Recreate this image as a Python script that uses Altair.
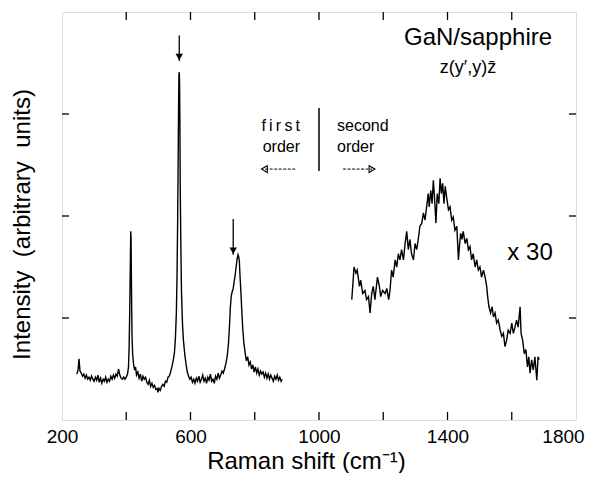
import altair as alt
import pandas as pd

# ---- first-order spectrum ----
first_x = [246, 250, 253, 256, 260, 264, 268, 272, 276, 280, 284, 288, 292, 296, 300, 304, 308, 312, 316, 320,
           324, 328, 332, 336, 340, 344, 348, 352, 356, 360, 364, 368, 372, 376, 380, 384, 388, 392, 396, 400,
           404, 407, 409, 411, 413, 414, 415, 416, 417, 418, 420, 423, 426, 429, 432, 436, 440, 444, 448, 452,
           456, 460, 464, 468, 472, 476, 480, 484, 488, 492, 496, 499, 502, 506, 510, 514, 518, 522, 526, 530,
           534, 538, 542, 546, 550, 553, 556, 558, 560, 562, 563, 564, 565, 566, 567, 568, 570, 572, 575, 578,
           582, 586, 590, 594, 598, 602, 606, 610, 614, 618, 622, 626, 630, 634, 638, 642, 646, 650, 654, 658,
           662, 666, 670, 674, 678, 682, 686, 690, 694, 698, 702, 706, 710, 714, 718, 721, 724, 727, 730, 733,
           736, 739, 742, 745, 748, 750, 752, 754, 757, 760, 763, 766, 770, 774, 778, 782, 786, 790, 794, 798,
           802, 806, 810, 814, 818, 822, 826, 830, 834, 838, 842, 846, 850, 854, 858, 862, 866, 870, 874, 878,
           882, 885]
first_y = [0.45, 0.49, 0.60, 0.48, 0.46, 0.43, 0.45, 0.41, 0.44, 0.40, 0.42, 0.39, 0.43, 0.40, 0.38, 0.42, 0.39, 0.44, 0.37, 0.41,
           0.36, 0.40, 0.38, 0.42, 0.37, 0.40, 0.38, 0.43, 0.40, 0.44, 0.41, 0.45, 0.43, 0.50, 0.44, 0.41, 0.40, 0.42, 0.40, 0.42,
           0.45, 0.52, 0.72, 1.10, 1.60, 1.85, 1.78, 1.40, 1.08, 0.82, 0.64, 0.54, 0.49, 0.52, 0.44, 0.47, 0.41, 0.45, 0.38, 0.43,
           0.40, 0.42, 0.37, 0.35, 0.39, 0.33, 0.36, 0.32, 0.34, 0.30, 0.31, 0.27, 0.31, 0.29, 0.33, 0.35, 0.33, 0.38, 0.37, 0.42,
           0.43, 0.47, 0.52, 0.58, 0.66, 0.80, 1.05, 1.40, 1.95, 2.70, 3.10, 3.38, 3.41, 3.30, 2.90, 2.30, 1.70, 1.25, 0.95, 0.78,
           0.65, 0.55, 0.47, 0.43, 0.40, 0.42, 0.37, 0.40, 0.36, 0.41, 0.38, 0.43, 0.37, 0.40, 0.44, 0.38, 0.41, 0.36, 0.42, 0.39,
           0.45, 0.38, 0.40, 0.36, 0.43, 0.40, 0.46, 0.41, 0.44, 0.48, 0.46, 0.50, 0.55, 0.62, 0.74, 0.90, 1.10, 1.22, 1.26, 1.29,
           1.36, 1.42, 1.50, 1.58, 1.62, 1.60, 1.56, 1.42, 1.25, 1.05, 0.88, 0.76, 0.66, 0.58, 0.62, 0.54, 0.57, 0.50, 0.54, 0.47,
           0.52, 0.46, 0.50, 0.44, 0.48, 0.45, 0.47, 0.42, 0.46, 0.41, 0.45, 0.40, 0.44, 0.41, 0.38, 0.43, 0.40, 0.44, 0.39, 0.42,
           0.38, 0.40]

# ---- second-order spectrum (x 30) ----
second_x = [1102, 1105, 1109, 1115, 1119, 1126, 1130, 1136, 1143, 1148, 1154, 1159, 1164, 1169, 1174, 1182, 1188, 1192, 1198, 1206,
            1211, 1217, 1221, 1226, 1231, 1237, 1242, 1247, 1252, 1257, 1263, 1268, 1273, 1278, 1283, 1288, 1294, 1299, 1304, 1309,
            1314, 1320, 1325, 1330, 1335, 1340, 1343, 1348, 1352, 1356, 1360, 1364, 1368, 1373, 1377, 1381, 1385, 1389, 1393, 1397,
            1403, 1408, 1413, 1418, 1423, 1429, 1434, 1437, 1441, 1445, 1449, 1455, 1460, 1465, 1470, 1475, 1480, 1486, 1491, 1496,
            1501, 1506, 1512, 1517, 1522, 1525, 1529, 1534, 1539, 1543, 1548, 1553, 1558, 1564, 1569, 1574, 1579, 1584, 1589, 1595,
            1600, 1605, 1610, 1615, 1620, 1626, 1629, 1634, 1639, 1644, 1649, 1653, 1657, 1662, 1667, 1672, 1678, 1682, 1685]
second_y = [1.18, 1.31, 1.50, 1.44, 1.47, 1.31, 1.37, 1.24, 1.27, 1.18, 1.21, 1.05, 1.24, 1.31, 1.18, 1.40, 1.31, 1.21, 1.27, 1.24,
            1.29, 1.18, 1.27, 1.47, 1.40, 1.57, 1.50, 1.63, 1.57, 1.67, 1.57, 1.73, 1.85, 1.67, 1.77, 1.63, 1.57, 1.73, 1.67, 1.77,
            1.90, 1.93, 2.03, 1.96, 2.09, 2.22, 2.09, 2.25, 2.12, 2.35, 2.16, 1.93, 2.22, 2.12, 2.37, 2.22, 2.32, 2.12, 2.29, 2.19,
            2.06, 2.09, 1.96, 1.99, 1.86, 1.90, 1.57, 1.70, 1.83, 1.77, 1.85, 1.73, 1.78, 1.67, 1.70, 1.57, 1.63, 1.50, 1.57, 1.47,
            1.50, 1.40, 1.47, 1.40, 1.31, 1.21, 1.11, 1.05, 1.11, 1.01, 1.05, 0.95, 0.98, 0.88, 0.82, 0.85, 0.72, 0.78, 0.88, 0.85,
            0.95, 0.85, 0.91, 0.98, 0.91, 1.11, 0.85, 0.78, 0.65, 0.69, 0.52, 0.62, 0.46, 0.59, 0.49, 0.62, 0.39, 0.62, 0.59]

# ---- axis ticks ----
x_ticks = [400, 600, 800, 1000, 1200, 1400, 1600]
x_labels = [200, 600, 1000, 1400, 1800]
y_ticks = [1, 2, 3]

# ---- annotations ----
center_text = ["GaN/sapphire", "z(y\u2032,y)z\u0304", "x 30"]
center_x = [1495, 1464, 1657]
center_y = [3.68, 3.40, 1.57]
center_size = [24, 18, 24]

left_order_text = ["f\u2009i\u2009r\u2009s\u2009t", "order"]
left_order_x = [941, 941]
left_order_y = [2.83, 2.63]
right_order_text = ["second", "order"]
right_order_x = [1056, 1056]
right_order_y = [2.83, 2.63]

divider_x = [1000]
divider_y = [3.06]
divider_y2 = [2.44]

down_arrow_x = [565, 733]
down_arrow_top = [3.77, 1.97]
down_arrow_tip = [3.52, 1.62]

side_arrow_tail = [926, 1075]
side_arrow_head = [830, 1165]
side_arrow_y = [2.46, 2.46]
side_arrow_shape = ["triangle-left", "triangle-right"]

FONT = "Liberation Sans"
W, H = 514, 408

xs = alt.Scale(domain=[200, 1800], nice=False, zero=False)
ys = alt.Scale(domain=[0, 4], nice=False, zero=False)

spec_df = pd.DataFrame({
    "x": first_x + second_x,
    "y": first_y + second_y,
    "s": ["first"] * len(first_x) + ["second"] * len(second_x),
})

lines = alt.Chart(spec_df).mark_line(color="black", strokeWidth=1.4).encode(
    x=alt.X("x:Q", scale=xs,
            axis=alt.Axis(values=x_labels, format="d", ticks=False, domain=False, grid=False,
                          labelFontSize=19, labelFont=FONT, labelColor="black", labelFlush=False,
                          labelOffset=alt.condition("datum.value == 1800", alt.value(-13), alt.value(0)),
                          labelPadding=7, title="Raman shift (cm\u207b\u00b9)",
                          titleFontSize=24, titleFont=FONT, titleFontWeight="normal",
                          titleColor="black", titleX=244, titleY=48,
                          titleBaseline="alphabetic")),
    y=alt.Y("y:Q", scale=ys,
            axis=alt.Axis(values=y_ticks, ticks=False, labels=False, domain=False, grid=False,
                          title="Intensity\u00a0\u00a0(arbitrary\u00a0\u00a0units)", titleFontSize=24,
                          titleFont=FONT, titleFontWeight="normal", titleColor="black",
                          titlePadding=28, titleY=212)),
    detail="s:N",
)

xt_df = pd.DataFrame({"v": x_ticks})
yt_df = pd.DataFrame({"v": y_ticks})
bottom_ticks = alt.Chart(xt_df).mark_rule(color="black", strokeWidth=1.3).encode(
    x=alt.X("v:Q", scale=xs), y=alt.value(H), y2=alt.value(H - 8))
top_ticks = alt.Chart(xt_df).mark_rule(color="black", strokeWidth=1.3).encode(
    x=alt.X("v:Q", scale=xs), y=alt.value(0), y2=alt.value(8))
left_ticks = alt.Chart(yt_df).mark_rule(color="black", strokeWidth=1.3).encode(
    y=alt.Y("v:Q", scale=ys), x=alt.value(0), x2=alt.value(7))
right_ticks = alt.Chart(yt_df).mark_rule(color="black", strokeWidth=1.3).encode(
    y=alt.Y("v:Q", scale=ys), x=alt.value(W), x2=alt.value(W - 7))

c_df = pd.DataFrame({"t": center_text, "x": center_x, "y": center_y, "fs": center_size})
center_labels = alt.Chart(c_df).mark_text(font=FONT, color="black", align="center",
                                          baseline="alphabetic").encode(
    x=alt.X("x:Q", scale=xs), y=alt.Y("y:Q", scale=ys), text="t:N",
    size=alt.Size("fs:Q", scale=None, legend=None))

lo_df = pd.DataFrame({"t": left_order_text, "x": left_order_x, "y": left_order_y})
left_labels = alt.Chart(lo_df).mark_text(font=FONT, fontSize=16, color="black", align="right",
                                         baseline="alphabetic").encode(
    x=alt.X("x:Q", scale=xs), y=alt.Y("y:Q", scale=ys), text="t:N")
ro_df = pd.DataFrame({"t": right_order_text, "x": right_order_x, "y": right_order_y})
right_labels = alt.Chart(ro_df).mark_text(font=FONT, fontSize=16, color="black", align="left",
                                          baseline="alphabetic").encode(
    x=alt.X("x:Q", scale=xs), y=alt.Y("y:Q", scale=ys), text="t:N")

div_df = pd.DataFrame({"x": divider_x, "y": divider_y, "y2": divider_y2})
divider = alt.Chart(div_df).mark_rule(color="black", strokeWidth=1.5).encode(
    x=alt.X("x:Q", scale=xs), y=alt.Y("y:Q", scale=ys), y2="y2:Q")

da_df = pd.DataFrame({"x": down_arrow_x, "y": down_arrow_top, "y2": down_arrow_tip})
down_shafts = alt.Chart(da_df).mark_rule(color="black", strokeWidth=1.3).encode(
    x=alt.X("x:Q", scale=xs), y=alt.Y("y:Q", scale=ys), y2="y2:Q")
down_heads = alt.Chart(da_df).mark_point(shape="triangle-down", filled=True, color="black",
                                         size=55, opacity=1, yOffset=-4).encode(
    x=alt.X("x:Q", scale=xs), y=alt.Y("y2:Q", scale=ys))

sa_df = pd.DataFrame({"x": side_arrow_tail, "x2": side_arrow_head, "y": side_arrow_y,
                      "shape": side_arrow_shape})
side_shafts = alt.Chart(sa_df).mark_rule(color="black", strokeWidth=1, strokeDash=[3, 1.5]).encode(
    x=alt.X("x:Q", scale=xs), x2="x2:Q", y=alt.Y("y:Q", scale=ys))
side_heads = alt.Chart(sa_df).mark_point(filled=False, color="black", size=45, strokeWidth=1.1,
                                         opacity=1).encode(
    x=alt.X("x2:Q", scale=xs), y=alt.Y("y:Q", scale=ys),
    shape=alt.Shape("shape:N", scale=None, legend=None))

chart = alt.layer(
    lines, bottom_ticks, top_ticks, left_ticks, right_ticks,
    center_labels, left_labels, right_labels, divider,
    down_shafts, down_heads, side_shafts, side_heads,
).properties(
    width=W, height=H,
    autosize=alt.AutoSizeParams(type="none"),
    padding={"left": 54, "top": 4, "right": 10, "bottom": 53},
).configure_view(stroke="black", strokeWidth=1.6).configure(background="white")

chart.save("out.html", embed_options={"renderer": "svg", "actions": False})
